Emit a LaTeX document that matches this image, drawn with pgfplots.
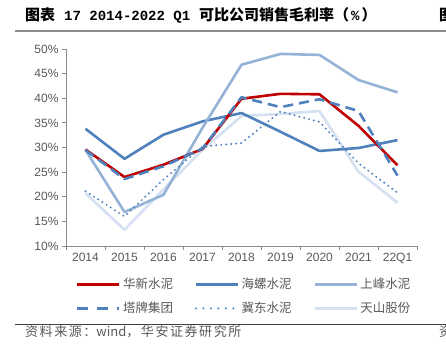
\documentclass[border=0pt]{standalone}
\usepackage{fontspec}
\setmainfont{Liberation Sans}
\newfontfamily\cjk{Noto Sans CJK SC}
\newfontfamily\cjkspaced[LetterSpace=12]{Noto Sans CJK SC}
\newfontfamily\monolat{Liberation Mono}
\usepackage{pgfplots}
\pgfplotsset{compat=1.18}
\definecolor{hx}{HTML}{C00000}
\definecolor{hl}{HTML}{4F81BD}
\definecolor{sf}{HTML}{95B3D7}
\definecolor{ts}{HTML}{D5E1F0}
\definecolor{txt}{HTML}{595959}
\definecolor{axc}{HTML}{8C8C8C}
\newcommand{\lat}[1]{{\monolat\bfseries\fontsize{14}{15}\selectfont #1}}
\begin{document}
\begin{tikzpicture}[x=1pt,y=1pt]
\clip (0,0) rectangle (446,356);
\fill[white] (0,0) rectangle (446,356);
\node[anchor=west, inner sep=0pt, font=\cjk\bfseries\fontsize{15}{15}\selectfont] at (25,341) {图表\hspace{9pt}\lat{17 2014-2022 Q1}\hspace{9pt}可比公司销售毛利率（\hspace{2pt}\lat{\%}\hspace{2pt}）};
\node[anchor=west, inner sep=0pt, font=\cjk\bfseries\fontsize{15}{15}\selectfont] at (439,341) {图};
\draw[color=axc, line width=1.2pt] (15,325) -- (446,325);
\draw[color=black!75, line width=1pt] (15,32) -- (446,32);
\node[anchor=west, inner sep=0pt, text=txt, font=\fontsize{13}{13}\selectfont] at (25,24) {{\cjkspaced 资料来源：}{\cjk\fontsize{13}{13}\selectfont wind}{\cjkspaced ，华安证券研究所}};
\node[anchor=west, inner sep=0pt, text=txt, font=\cjk\fontsize{13}{13}\selectfont] at (439,24) {资};
\begin{axis}[
  at={(66pt,110pt)}, anchor=south west,
  scale only axis, width=351pt, height=197pt,
  xmin=-0.5, xmax=8.5, ymin=10, ymax=50,
  axis x line*=bottom, axis y line*=left,
  axis line style={draw=axc, line width=0.8pt},
  xtick={0,...,8},
  xticklabels={2014,2015,2016,2017,2018,2019,2020,2021,22Q1},
  minor xtick={-0.5,0.5,...,8.5},
  major x tick style={draw=none},
  minor x tick style={draw=axc, line width=0.8pt},
  ytick={10,15,...,50},
  yticklabels={10\%,15\%,20\%,25\%,30\%,35\%,40\%,45\%,50\%},
  y tick style={draw=axc, line width=0.8pt},
  tick align=outside,
  major tick length=4pt, minor tick length=4pt,
  ticklabel style={font=\fontsize{12}{12}\selectfont, text=txt},
  /pgf/number format/assume math mode=true,
  xtick pos=bottom, ytick pos=left,
  legend columns=3,
  legend cell align=left,
  legend image code/.code={\draw[#1] (0pt,0pt) -- (42pt,0pt);},
  legend style={at={(0.028,-0.15)}, anchor=north west, draw=none, fill=none,
    font=\cjk\fontsize{12.5}{13}\selectfont, text=txt, inner sep=0pt,
    row sep=7pt,
    nodes={inner sep=2.5pt},
    /tikz/every even column/.append style={column sep=19pt}},
  every axis plot/.append style={line width=2.6pt, line join=round},
  clip=false,
]
\addlegendimage{hx, line width=2.6pt}
\addlegendentry{华新水泥}
\addlegendimage{hl, line width=2.6pt}
\addlegendentry{海螺水泥}
\addlegendimage{sf, line width=2.6pt}
\addlegendentry{上峰水泥}
\addlegendimage{hl, line width=2.6pt, dash pattern=on 11pt off 9pt}
\addlegendentry{塔牌集团}
\addlegendimage{hl, line width=2.2pt, line cap=round, dash pattern=on 0pt off 7.5pt}
\addlegendentry{冀东水泥}
\addlegendimage{ts, line width=2.6pt}
\addlegendentry{天山股份}

\addplot[ts, forget plot] coordinates {(0,20.7) (1,13.3) (2,21.5) (3,29.5) (4,36.4) (5,36.8) (6,37.4) (7,25.1) (8,18.8)};
\addplot[hl, forget plot] coordinates {(0,33.8) (1,27.7) (2,32.6) (3,35.3) (4,37.0) (5,33.2) (6,29.3) (7,29.9) (8,31.5)};
\addplot[sf, forget plot] coordinates {(0,29.5) (1,16.9) (2,20.4) (3,34.0) (4,46.8) (5,49.0) (6,48.8) (7,43.7) (8,41.2)};
\addplot[hx, forget plot] coordinates {(0,29.6) (1,24.0) (2,26.5) (3,29.7) (4,39.9) (5,40.9) (6,40.8) (7,34.4) (8,26.4)};
\addplot[hl, forget plot, dash pattern=on 10pt off 6pt] coordinates {(0,29.5) (1,23.6) (2,26.2) (3,29.8) (4,40.2) (5,38.2) (6,39.8) (7,37.4) (8,24.3)};
\addplot[hl, forget plot, line width=2.2pt, line cap=round, dash pattern=on 0pt off 5pt] coordinates {(0,21.1) (1,16.0) (2,23.5) (3,30.2) (4,30.9) (5,37.3) (6,35.2) (7,26.8) (8,20.8)};
\end{axis}
\end{tikzpicture}
\end{document}
